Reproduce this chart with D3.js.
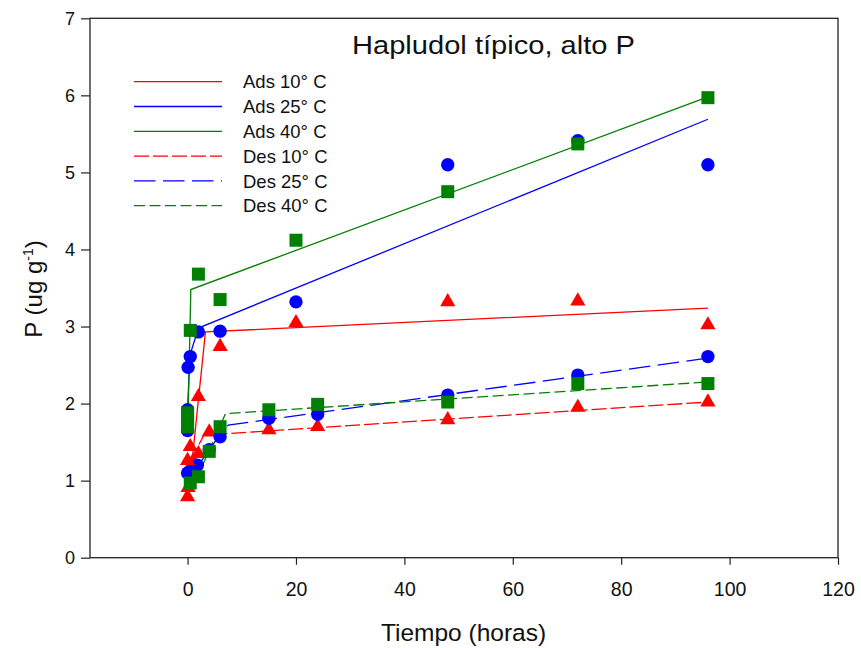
<!DOCTYPE html>
<html>
<head>
<meta charset="utf-8">
<script src="https://cdn.jsdelivr.net/npm/d3@7"></script>
<style>
  body { margin: 0; background: #fff; }
  text { font-family: "Liberation Sans", Arial, sans-serif; fill: #111; }
</style>
</head>
<body>
<svg id="chart" width="861" height="648"></svg>
<script>
// measured points (time in hours, P in ug/g)
const ads10T = [0, 0.5, 2, 6, 20, 48, 72, 96];
const ads10V = [1.26, 1.44, 2.09, 2.74, 3.05, 3.32, 3.33, 3.02];
const ads25T = [0, 0.1, 0.5, 2, 6, 20, 48, 72, 96];
const ads25V = [1.92, 2.47, 2.61, 2.93, 2.94, 3.32, 5.10, 5.41, 5.10];
const ads40T = [0, 0.5, 2, 6, 20, 48, 72, 96];
const ads40V = [1.88, 2.95, 3.68, 3.35, 4.12, 4.75, 5.37, 5.97];

const des10T = [0, 0.1, 1, 2, 4, 15, 24, 48, 72, 96];
const des10V = [0.79, 0.91, 1.25, 1.35, 1.63, 1.66, 1.70, 1.79, 1.95, 2.02];
const des25T = [0, 0, 0.4, 1.8, 4, 6, 15, 24, 48, 72, 96];
const des25V = [1.65, 1.10, 1.12, 1.20, 1.40, 1.57, 1.81, 1.86, 2.11, 2.37, 2.61];
const des40T = [0, 0, 0.5, 2, 4, 6, 15, 24, 48, 72, 96];
const des40V = [1.79, 1.70, 0.97, 1.05, 1.38, 1.70, 1.92, 1.99, 2.02, 2.26, 2.26];

// fitted curves
const fitAds10T = [0.9, 3.3, 96];
const fitAds10V = [1.30, 2.93, 3.24];
const fitAds25T = [0, 0.4, 2, 96];
const fitAds25V = [1.90, 2.62, 2.98, 5.69];
const fitAds40T = [0.1, 0.6, 96];
const fitAds40V = [1.85, 3.48, 5.98];
const fitDes10T = [0.5, 3, 96];
const fitDes10V = [1.25, 1.59, 2.02];
const fitDes25T = [1, 5.5, 7.5, 96];
const fitDes25V = [1.10, 1.55, 1.72, 2.59];
const fitDes40T = [1.5, 7, 96];
const fitDes40V = [1.00, 1.87, 2.28];

const legendLabels = ["Ads 10° C", "Ads 25° C", "Ads 40° C", "Des 10° C", "Des 25° C", "Des 40° C"];
const xTicks = [0, 20, 40, 60, 80, 100, 120];
const yTicks = [0, 1, 2, 3, 4, 5, 6, 7];

const RED = "#ff0000", BLUE = "#0000ff", GREEN = "#008000";

const zip = (ts, vs) => ts.map((t, i) => ({ t: t, v: vs[i] }));

const series = [
  { pts: zip(ads10T, ads10V), fit: zip(fitAds10T, fitAds10V), color: RED, sym: d3.symbolTriangle, size: 100, dash: null },
  { pts: zip(ads25T, ads25V), fit: zip(fitAds25T, fitAds25V), color: BLUE, sym: d3.symbolCircle, size: 141, dash: null },
  { pts: zip(ads40T, ads40V), fit: zip(fitAds40T, fitAds40V), color: GREEN, sym: d3.symbolSquare, size: 169, dash: null },
  { pts: zip(des10T, des10V), fit: zip(fitDes10T, fitDes10V), color: RED, sym: d3.symbolTriangle, size: 100, dash: "15,4" },
  { pts: zip(des25T, des25V), fit: zip(fitDes25T, fitDes25V), color: BLUE, sym: d3.symbolCircle, size: 141, dash: "21.5,7.5" },
  { pts: zip(des40T, des40V), fit: zip(fitDes40T, fitDes40V), color: GREEN, sym: d3.symbolSquare, size: 169, dash: "11,4.5" },
];

const svg = d3.select("#chart");
const plotL = 90, plotR = 838, plotT = 18.3, plotB = 557.7;

const x = d3.scaleLinear().domain([-18, 120]).range([plotL, plotR]);
const y = d3.scaleLinear().domain([0, 7]).range([plotB, plotT]);

// axes
const yAxis = svg.append("g")
  .attr("transform", `translate(${plotL},0)`)
  .call(d3.axisLeft(y).tickValues(yTicks).tickFormat(d3.format("d"))
    .tickSize(9).tickPadding(6).tickSizeOuter(0));
const xAxis = svg.append("g")
  .attr("transform", `translate(0,${plotB})`)
  .call(d3.axisBottom(x).tickValues(xTicks).tickFormat(d3.format("d"))
    .tickSize(7).tickPadding(17).tickSizeOuter(0));

[xAxis, yAxis].forEach((g) => {
  g.select(".domain").remove();
  g.selectAll("line").attr("stroke", "#222").attr("stroke-width", 1.2);
  g.selectAll("text")
    .attr("font-family", "Liberation Sans, Arial, sans-serif")
    .attr("font-size", 18)
    .attr("fill", "#111");
});
xAxis.selectAll("text").attr("font-size", 19.5);

svg.append("rect")
  .attr("x", plotL).attr("y", plotT)
  .attr("width", plotR - plotL).attr("height", plotB - plotT)
  .attr("fill", "none").attr("stroke", "#222").attr("stroke-width", 1.3);

const line = d3.line().x((d) => x(d.t)).y((d) => y(d.v));

// fitted lines
svg.append("g")
  .selectAll("path")
  .data(series)
  .join("path")
  .attr("d", (d) => line(d.fit))
  .attr("fill", "none")
  .attr("stroke", (d) => d.color)
  .attr("stroke-width", 1.3)
  .attr("stroke-dasharray", (d) => d.dash);

// markers, desorption first so adsorption sits on top
svg.append("g")
  .selectAll("g")
  .data([3, 4, 5, 0, 1, 2].map((i) => series[i]))
  .join("g")
  .attr("fill", (d) => d.color)
  .selectAll("path")
  .data((d) => d.pts.map((p) => ({ ...p, sym: d.sym, size: d.size })))
  .join("path")
  .attr("transform", (d) => `translate(${x(d.t)},${y(d.v)})`)
  .attr("d", (d) => d3.symbol().type(d.sym).size(d.size)());

// legend
const legend = svg.append("g").attr("transform", "translate(134,81.7)");
const rows = legend.selectAll("g")
  .data(series)
  .join("g")
  .attr("transform", (d, i) => `translate(0,${i * 24.8})`);
rows.append("line")
  .attr("x1", 0).attr("x2", 88)
  .attr("stroke", (d) => d.color)
  .attr("stroke-width", 1.3)
  .attr("stroke-dasharray", (d) => d.dash);
rows.append("text")
  .attr("x", 109)
  .attr("y", 6.6)
  .attr("font-size", 18.5)
  .text((d, i) => legendLabels[i]);

// titles
svg.append("text")
  .attr("x", 352).attr("y", 54.3)
  .attr("font-size", 26)
  .attr("textLength", 283)
  .attr("lengthAdjust", "spacingAndGlyphs")
  .text("Hapludol típico, alto P");

svg.append("text")
  .attr("x", 463.5).attr("y", 641)
  .attr("text-anchor", "middle")
  .attr("font-size", 24.5)
  .text("Tiempo (horas)");

const yLab = svg.append("text")
  .attr("transform", "translate(42,289) rotate(-90)")
  .attr("text-anchor", "middle")
  .attr("font-size", 24);
yLab.append("tspan").text("P (ug g");
yLab.append("tspan").attr("font-size", 14).attr("dy", -9).text("-1");
yLab.append("tspan").attr("dy", 9).text(")");
</script>
</body>
</html>
